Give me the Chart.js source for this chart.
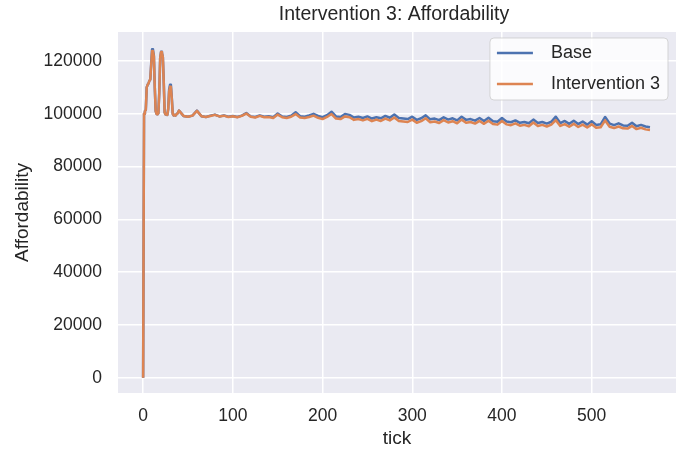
<!DOCTYPE html>
<html>
<head>
<meta charset="utf-8">
<script src="https://cdn.jsdelivr.net/npm/chart.js@4/dist/chart.umd.min.js"></script>
<style>
  html, body { margin: 0; padding: 0; background: #ffffff; }
  #wrap { width: 683px; height: 452px; }
</style>
</head>
<body>
<div id="wrap"><canvas id="c" width="683" height="452"></canvas></div>
<script>
// Simulation ticks (weekly steps); dense at the start where the series oscillates
const ticks = [
  0, 1, 2, 3, 4, 5, 6, 7, 8, 9, 10, 11, 12, 13, 14, 15, 16, 17, 18, 19, 20,
  21, 22, 23, 24, 25, 26, 27, 28, 29, 30, 31, 32, 33, 34, 35, 36, 37, 38, 39, 40,
  45, 50, 55, 60, 65, 70, 75, 80, 85, 90, 95, 100, 105, 110, 115, 120, 125, 130, 135, 140,
  145, 150, 155, 160, 165, 170, 175, 180, 185, 190, 195, 200, 205, 210, 215, 220, 225, 230,
  235, 240, 245, 250, 255, 260, 265, 270, 275, 280, 285, 290, 295, 300, 305, 310, 315, 320,
  325, 330, 335, 340, 345, 350, 355, 360, 365, 370, 375, 380, 385, 390, 395, 400, 405, 410,
  415, 420, 425, 430, 435, 440, 445, 450, 455, 460, 465, 470, 475, 480, 485, 490, 495, 500,
  505, 510, 515, 520, 525, 530, 535, 540, 545, 550, 555, 560, 565
];

// Affordability, base scenario
const base = [
  0, 100000, 101000, 101500, 110000, 111000, 111500, 112500, 113000, 119000, 124500,
  124200, 122000, 110000, 101000, 100000, 99800, 100200, 108000, 121000, 123500,
  123000, 121500, 112000, 100500, 99800, 100000, 99600, 102000, 109200, 111000,
  110700, 106000, 100000, 99400, 99600, 99300, 99800, 100000, 100500, 101200,
  99200, 98900, 99300, 101200, 99100, 98800, 99300, 99700, 99000, 99400, 98900, 99200,
  98800, 99300, 100300, 99000, 98800, 99400, 98900, 99100, 98700, 100100, 99000, 98800,
  99300, 100600, 99100, 98900, 99400, 100000, 99200, 98700, 99500, 100800, 99000,
  98800, 99900, 99600, 98600, 98900, 98400, 99000, 98200, 98700, 98300, 99200, 98500,
  99700, 98400, 98200, 98000, 98900, 97700, 98300, 99400, 97900, 98200, 97600,
  98700, 97800, 98300, 97500, 98900, 97700, 98000, 97400, 98400, 97300, 98500,
  97200, 97000, 98400, 97100, 96800, 97500, 96600, 96900, 96400, 97800, 96500, 96900,
  96300, 97000, 98900, 96500, 97300, 96200, 97400, 96100, 97100, 95900, 97200, 95800,
  96000, 98800, 96300, 95700, 96400, 95600, 95500, 96600, 95300, 95800, 95200, 94900
];

// Affordability under Intervention 3
const intervention3 = [
  0, 100000, 101000, 101500, 110000, 111000, 111500, 112500, 113000, 118500, 123800,
  123500, 121800, 110000, 101000, 100000, 99800, 100200, 108000, 121000, 123400,
  123000, 121500, 112000, 100500, 99800, 100000, 99600, 101800, 108500, 110300,
  110000, 105500, 100000, 99400, 99600, 99300, 99800, 100000, 100500, 101200,
  99200, 98900, 99300, 101100, 99100, 98800, 99200, 99600, 99000, 99300, 98800, 99100,
  98700, 99200, 100100, 98900, 98600, 99200, 98700, 98800, 98400, 99700, 98700, 98400,
  98900, 99900, 98600, 98400, 98800, 99300, 98500, 98000, 98800, 99900, 98200,
  98000, 99000, 98700, 97700, 98000, 97500, 98100, 97200, 97800, 97300, 98200, 97500,
  98600, 97300, 97100, 96900, 97800, 96600, 97200, 98300, 96800, 97100, 96500,
  97600, 96700, 97200, 96400, 97800, 96600, 96900, 96300, 97300, 96200, 97400,
  96100, 95900, 97300, 96000, 95700, 96400, 95500, 95800, 95300, 96700, 95400, 95800,
  95200, 95900, 97600, 95400, 96100, 95100, 96200, 95000, 95900, 94800, 96000, 94700,
  94900, 97500, 95100, 94600, 95200, 94500, 94400, 95400, 94200, 94700, 94100, 93900
];

const seriesNames = ['Base', 'Intervention 3'];
const xTickValues = [0, 100, 200, 300, 400, 500];
const yTickValues = [0, 20000, 40000, 60000, 80000, 100000, 120000];

const FONT = '"Liberation Sans", Arial, sans-serif';
const TEXT = '#262626';
const BLUE = '#4C72B0';
const ORANGE = '#DD8452';

Chart.defaults.font.family = FONT;
Chart.defaults.color = TEXT;

// Grey plotting panel behind the grid
const panel = {
  id: 'panel',
  beforeDraw(chart) {
    const { ctx, chartArea: a } = chart;
    ctx.save();
    ctx.fillStyle = '#EAEAF2';
    ctx.fillRect(a.left, a.top, a.right - a.left, a.bottom - a.top);
    ctx.restore();
  }
};

// Title centred over the plotting panel
const panelTitle = {
  id: 'panelTitle',
  afterDraw(chart) {
    const { ctx, chartArea: a } = chart;
    ctx.save();
    ctx.font = '19.5px ' + FONT;
    ctx.fillStyle = TEXT;
    ctx.textAlign = 'center';
    ctx.textBaseline = 'middle';
    ctx.fillText('Intervention 3: Affordability', (a.left + a.right) / 2 - 3, 15);
    ctx.restore();
  }
};

// Framed legend in the upper-right corner of the panel
const boxLegend = {
  id: 'boxLegend',
  afterDraw(chart) {
    const { ctx, chartArea: a } = chart;
    const colors = [BLUE, ORANGE];
    ctx.save();
    ctx.font = '18px ' + FONT;
    const textW = Math.max(...seriesNames.map(n => ctx.measureText(n).width));
    const right = a.right - 8;
    const top = a.top + 6;
    const textRight = right - 8;
    const textLeft = textRight - textW;
    const lineEnd = textLeft - 18;
    const lineStart = lineEnd - 36;
    const left = lineStart - 7;
    const bottom = top + 62;
    const r = 4;
    ctx.beginPath();
    ctx.moveTo(left + r, top);
    ctx.arcTo(right, top, right, bottom, r);
    ctx.arcTo(right, bottom, left, bottom, r);
    ctx.arcTo(left, bottom, left, top, r);
    ctx.arcTo(left, top, right, top, r);
    ctx.closePath();
    ctx.fillStyle = 'rgba(255,255,255,0.8)';
    ctx.fill();
    ctx.strokeStyle = 'rgba(204,204,204,0.8)';
    ctx.lineWidth = 1;
    ctx.stroke();
    const rows = [top + 15, top + 46];
    seriesNames.forEach((name, i) => {
      ctx.strokeStyle = colors[i];
      ctx.lineWidth = 2.5;
      ctx.beginPath();
      ctx.moveTo(lineStart, rows[i]);
      ctx.lineTo(lineEnd, rows[i]);
      ctx.stroke();
      ctx.fillStyle = TEXT;
      ctx.textAlign = 'left';
      ctx.textBaseline = 'middle';
      ctx.fillText(name, textLeft, rows[i]);
    });
    ctx.restore();
  }
};

const toPoints = vals => ticks.map((t, i) => ({ x: t, y: vals[i] }));

new Chart(document.getElementById('c'), {
  type: 'line',
  data: {
    datasets: [
      {
        label: seriesNames[0],
        data: toPoints(base),
        borderColor: BLUE,
        borderWidth: 2.5,
        pointRadius: 0,
        tension: 0,
        fill: false,
        borderJoinStyle: 'round',
        order: 2
      },
      {
        label: seriesNames[1],
        data: toPoints(intervention3),
        borderColor: ORANGE,
        borderWidth: 2.5,
        pointRadius: 0,
        tension: 0,
        fill: false,
        borderJoinStyle: 'round',
        order: 1
      }
    ]
  },
  options: {
    responsive: false,
    animation: false,
    devicePixelRatio: 1,
    layout: { padding: { top: 32, right: 7, bottom: 0, left: 0 } },
    plugins: {
      legend: { display: false },
      title: { display: false },
      tooltip: { enabled: false }
    },
    scales: {
      x: {
        type: 'linear',
        min: -28,
        max: 594,
        afterBuildTicks: s => { s.ticks = xTickValues.map(v => ({ value: v })); },
        afterFit: s => { s.height = 59; },
        grid: { color: '#ffffff', lineWidth: 1.5, drawTicks: false },
        border: { display: false },
        ticks: {
          padding: 13,
          color: TEXT,
          font: { size: 17.5 },
          maxRotation: 0,
          autoSkip: false,
          callback: v => String(v)
        },
        title: {
          display: true,
          text: 'tick',
          color: TEXT,
          font: { size: 19 },
          padding: { top: 0, bottom: 2 }
        }
      },
      y: {
        type: 'linear',
        min: -5800,
        max: 131000,
        afterBuildTicks: s => { s.ticks = yTickValues.map(v => ({ value: v })); },
        afterFit: s => { s.width = 118; },
        grid: { color: '#ffffff', lineWidth: 1.5, drawTicks: false },
        border: { display: false },
        ticks: {
          padding: 16,
          color: TEXT,
          font: { size: 17.5 },
          autoSkip: false,
          callback: v => String(v)
        },
        title: {
          display: true,
          text: 'Affordability',
          color: TEXT,
          font: { size: 19 },
          padding: { top: 11, bottom: 0 }
        }
      }
    }
  },
  plugins: [panel, panelTitle, boxLegend]
});
</script>
</body>
</html>
